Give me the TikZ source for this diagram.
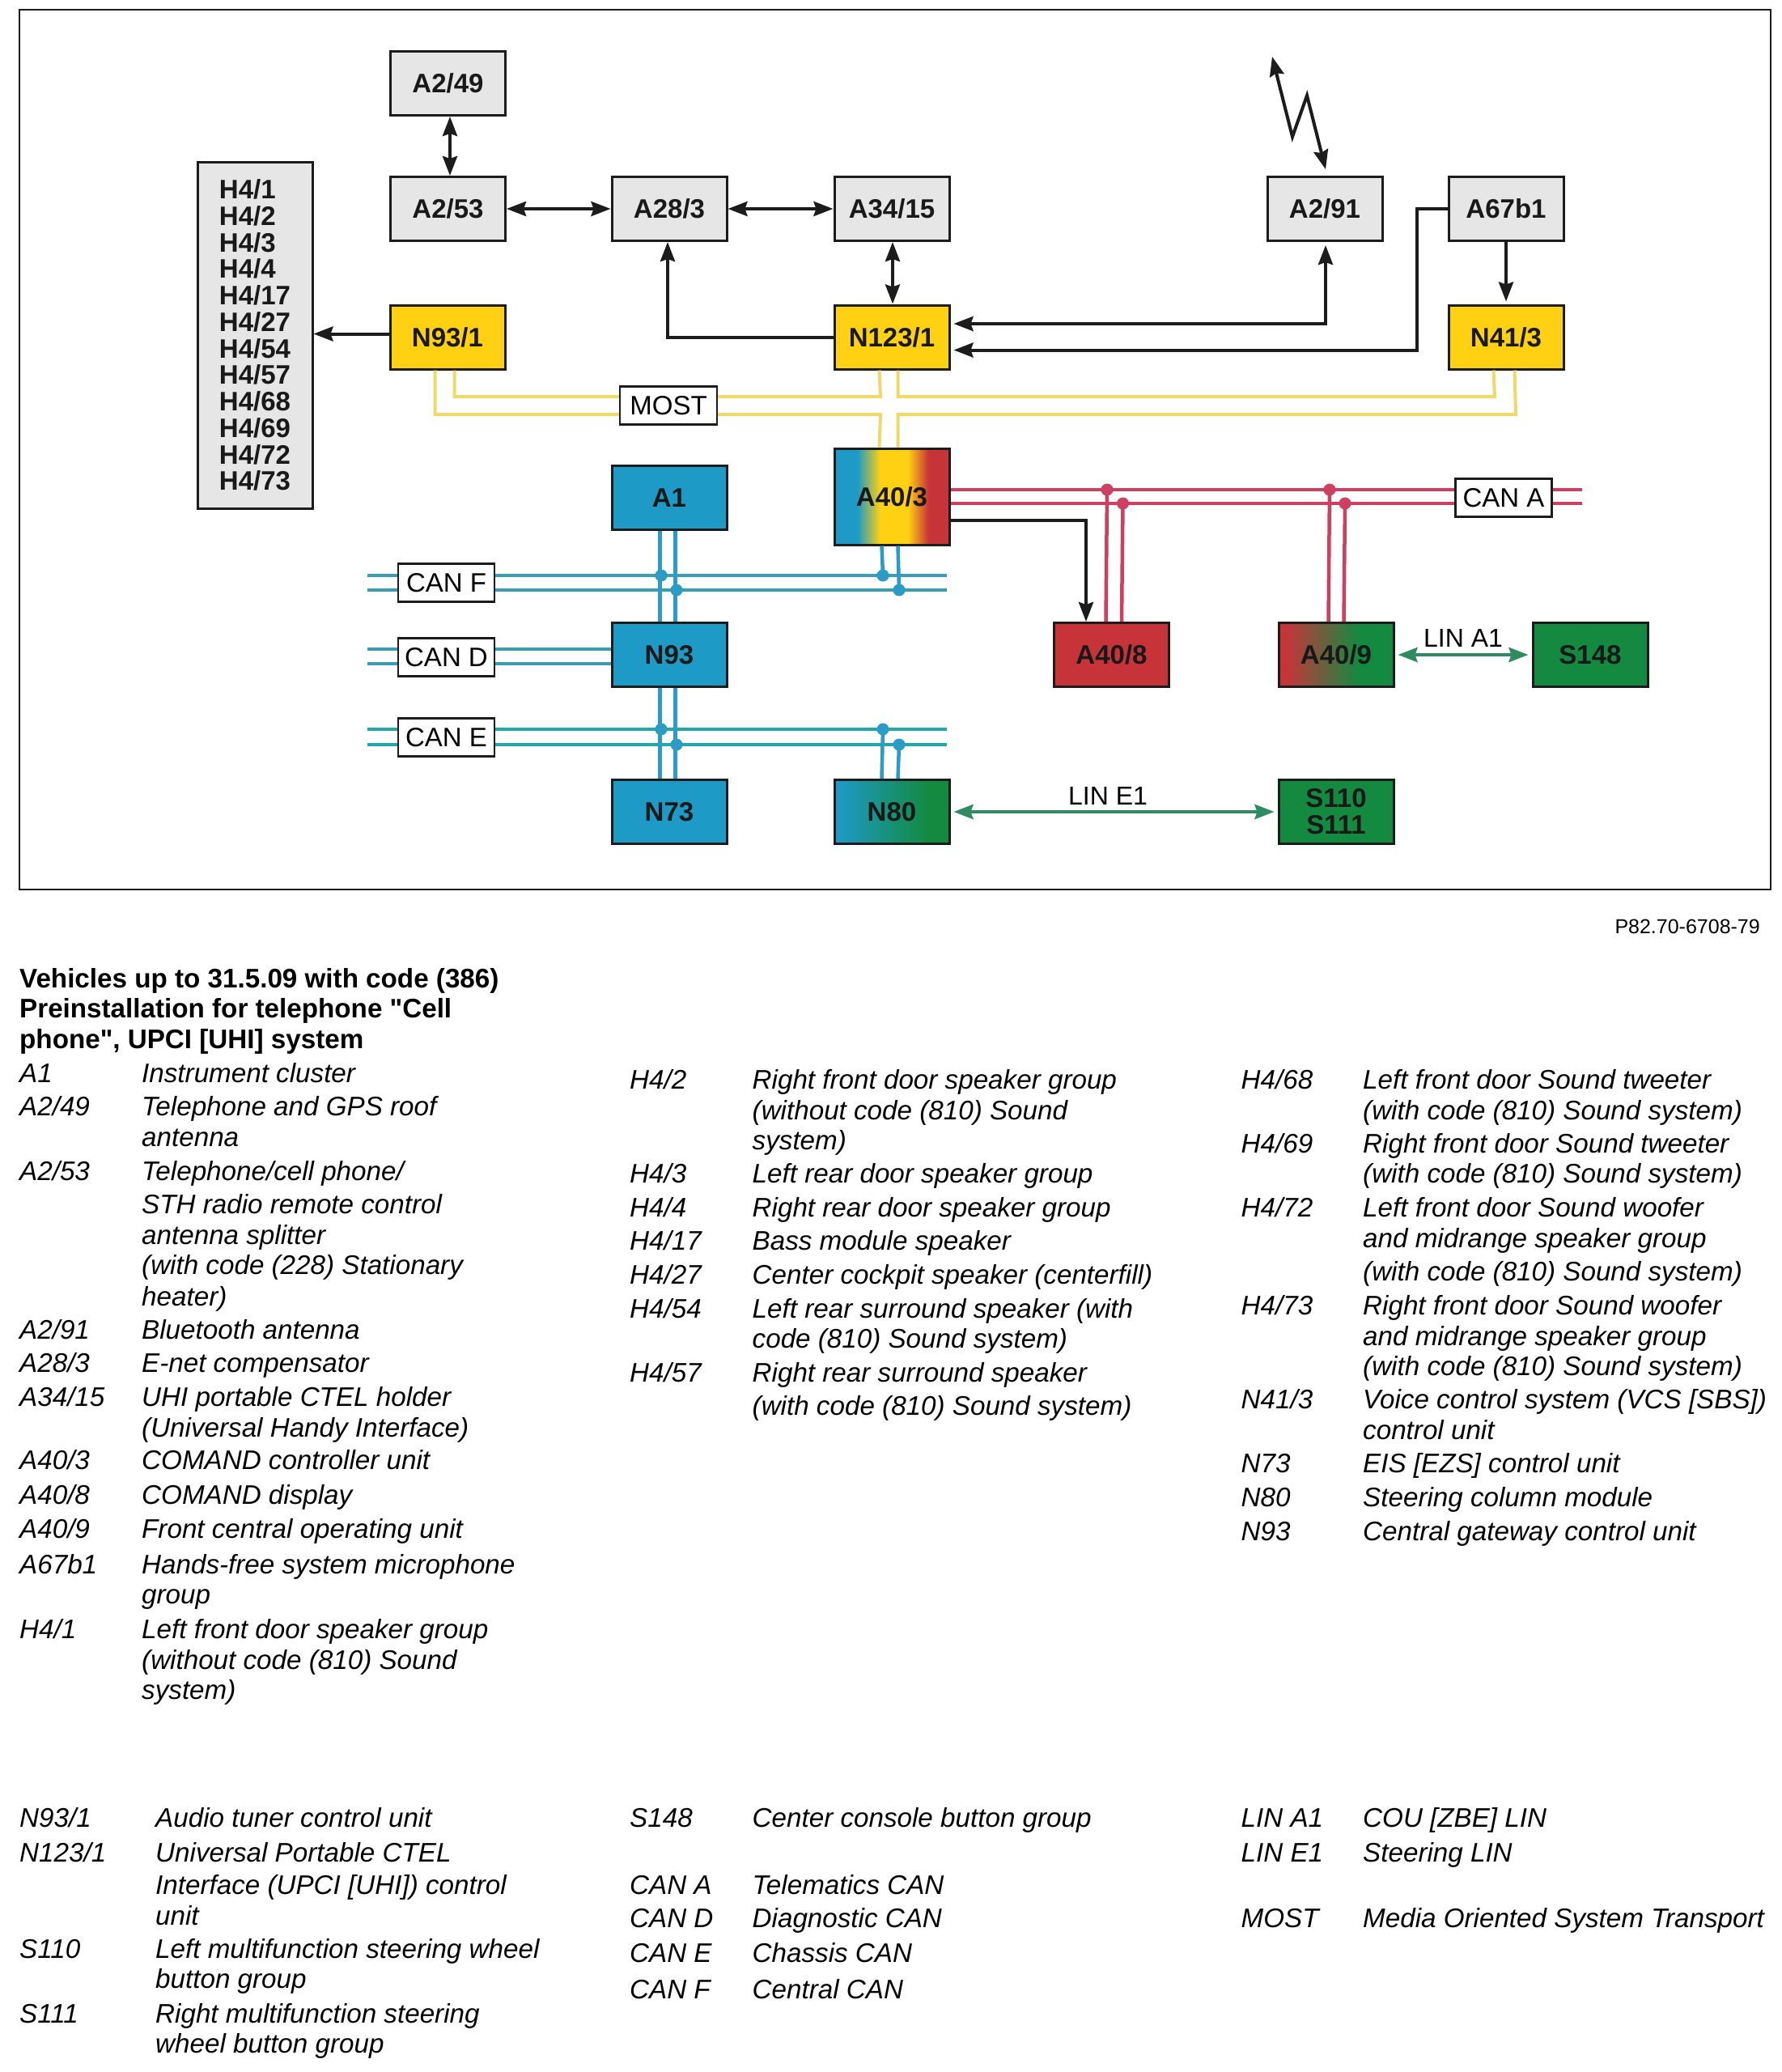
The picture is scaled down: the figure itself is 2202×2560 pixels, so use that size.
\documentclass[tikz,border=0pt]{standalone}
\usepackage{fontspec}
\setmainfont{Liberation Sans}
\font\qbf="Liberation Sans/B" at 33pt
\usetikzlibrary{arrows.meta,calc}
\definecolor{cgray}{HTML}{E6E6E6}
\definecolor{cyel}{HTML}{FFD112}
\definecolor{cblue}{HTML}{1E9AC6}
\definecolor{cred}{HTML}{C6343A}
\definecolor{cgreen}{HTML}{138A40}
\definecolor{lyel}{HTML}{EFD96A}
\definecolor{lblue}{HTML}{2A9CC6}
\definecolor{lteal}{HTML}{3C9DB0}
\definecolor{lteal2}{HTML}{22A8A8}
\definecolor{lred}{HTML}{CF3F60}
\definecolor{lgreen}{HTML}{2E8B62}
\definecolor{ink}{HTML}{1C1C1C}
\pgfdeclarehorizontalshading{rainbowbox}{100bp}{
  color(0bp)=(cblue); color(35bp)=(cblue); color(45bp)=(cyel); color(57bp)=(cyel); color(66bp)=(cred); color(100bp)=(cred)}
\pgfdeclarehorizontalshading{bluegreen}{100bp}{
  color(0bp)=(cblue); color(26bp)=(cblue); color(66bp)=(cgreen); color(100bp)=(cgreen)}
\pgfdeclarehorizontalshading{redgreen}{100bp}{
  color(0bp)=(cred); color(28bp)=(cred); color(60bp)=(cgreen); color(100bp)=(cgreen)}
\newcounter{legn}
\newcommand{\leg}[3]{\stepcounter{legn}\node[legtext] (leg\arabic{legn}) at (#1,#2+13) {#3};}
\tikzset{
  x=1pt,y=-1pt,
  unit/.style={draw=ink,line width=3pt,minimum width=142pt,minimum height=79pt,inner sep=0pt,
    font=\fontsize{33}{33}\selectfont\bfseries,text=black!90},
  gbox/.style={unit,fill=cgray},
  ybox/.style={unit,fill=cyel},
  bbox/.style={unit,fill=cblue},
  rbox/.style={unit,fill=cred},
  grbox/.style={unit,fill=cgreen},
  tag/.style={draw=ink,line width=2.5pt,fill=white,inner sep=0pt,minimum width=119pt,minimum height=47pt,
    font=\fontsize{33}{33}\selectfont},
  linelabel/.style={inner sep=0pt,font=\fontsize{32}{32}\selectfont},
  blk/.style={draw=ink,line width=4pt,line join=miter},
  arr/.style={blk,-{Stealth[length=24pt,width=18pt,inset=3pt]}},
  darr/.style={blk,{Stealth[length=24pt,width=18pt,inset=3pt]}-{Stealth[length=24pt,width=18pt,inset=3pt]}},
  larr/.style={blk,{Stealth[length=24pt,width=18pt,inset=3pt]}-},
  most/.style={draw=lyel,line width=4pt},
  canb/.style={draw=lblue,line width=4.5pt},
  canh/.style={draw=lteal,line width=4.5pt},
  cane/.style={draw=lteal2,line width=4.5pt},
  canr/.style={draw=lred,line width=4.5pt},
  grn/.style={draw=lgreen,line width=4pt,shorten <=4pt,shorten >=4pt,{Stealth[length=24pt,width=18pt,inset=3pt]}-{Stealth[length=24pt,width=18pt,inset=3pt]}},
  bdot/.style={circle,fill=lblue,draw=none,inner sep=0pt,minimum size=15pt},
  rdot/.style={circle,fill=lred,draw=none,inner sep=0pt,minimum size=15pt},
  legtext/.style={anchor=base west,inner sep=0pt,font=\fontsize{33.2}{33.2}\selectfont\itshape},
  legtitle/.style={anchor=base west,inner sep=0pt,font=\fontsize{33.2}{33.2}\selectfont\bfseries},
}
\begin{document}
\begin{tikzpicture}
\useasboundingbox (0,0) rectangle (2202,2560);
\fill[white] (0,0) rectangle (2202,2560);
\node[draw=ink,line width=2.5pt,minimum width=2164pt,minimum height=1087pt,inner sep=0pt] (frame) at (1106,555.5) {};

% units
\node[gbox] (A249) at (553.5,103) {A2/49};
\node[gbox] (A253) at (553.5,258) {A2/53};
\node[gbox] (A283) at (827,258) {A28/3};
\node[gbox] (A3415) at (1102,258) {A34/15};
\node[gbox] (A291) at (1637,258) {A2/91};
\node[gbox] (A67) at (1861,258) {A67b1};
\node[ybox] (N931) at (553,416.5) {N93/1};
\node[ybox] (N1231) at (1102,416.5) {N123/1};
\node[ybox] (N413) at (1861,416.5) {N41/3};
\node[gbox,minimum height=428pt,align=left,font=\fontsize{33}{32.75}\selectfont\bfseries] (H4) at (315,414)
  {H4/1\\H4/2\\H4/3\\H4/4\\H4/17\\H4/27\\H4/54\\H4/57\\H4/68\\H4/69\\H4/72\\H4/73};
\coordinate (a403c) at (1102,613.5);
\node[unit,minimum height=119pt,shading=rainbowbox] (A403) at (a403c) {A40/3};
\node[bbox] (A1) at (827,615) {A1};
\node[bbox] (N93) at (827,809) {N93};
\node[bbox] (N73) at (827,1003) {N73};
\node[unit,shading=bluegreen] (N80) at (1102,1003) {N80};
\node[rbox] (A408) at (1373.5,809) {A40/8};
\node[unit,shading=redgreen] (A409) at (1651,809) {A40/9};
\node[grbox] (S148) at (1965,809) {S148};
\node[grbox,align=center,font=\fontsize{33}{33}\selectfont\bfseries] (S110) at (1651,1003) {S110\\S111};

% MOST bus
\coordinate (m1) at (1088,512);
\coordinate (m2) at (1088,490);
\coordinate (m3) at (1847,490);
\coordinate (m4) at (1873,512);
\draw[most] ([xshift=57pt]N931.south west) |- (m1) -- ([xshift=57pt]A403.north west);
\draw[most] ([xshift=81pt]N931.south west) |- (m2) -- ([xshift=57pt]N1231.south west);
\draw[most] ([xshift=80pt]N1231.south west) |- (m3) -- ([xshift=57pt]N413.south west);
\draw[most] ([xshift=80pt]A403.north west) |- (m4) -- ([xshift=83pt]N413.south west);
\node[tag,minimum width=120pt] (MOST) at (826,501) {MOST};

% CAN F / D / E
\coordinate (F1l) at (454,711); \coordinate (F1r) at (1170,711);
\coordinate (F2l) at (454,729); \coordinate (F2r) at (1170,729);
\coordinate (E1l) at (454,901); \coordinate (E1r) at (1170,901);
\coordinate (E2l) at (454,920); \coordinate (E2r) at (1170,920);
\coordinate (D1l) at (454,802); \coordinate (D2l) at (454,820);
\draw[canh] (F1l) -- (F1r);
\draw[canh] (F2l) -- (F2r);
\draw[canh] (D1l) -- ([yshift=7pt]N93.west);
\draw[canh] (D2l) -- ([yshift=-11pt]N93.west);
\draw[cane] (E1l) -- (E1r);
\draw[cane] (E2l) -- (E2r);
\foreach \xs in {61,80}{
  \draw[canb] ([xshift=\xs pt]A1.south west) -- ([xshift=\xs pt]N93.north west);
  \draw[canb] ([xshift=\xs pt]N93.south west) -- ([xshift=\xs pt]N73.north west);
}
\node[bdot] (d1) at (817,711) {};
\node[bdot] (d2) at (836,729) {};
\node[bdot] (d3) at (1091,711) {};
\node[bdot] (d4) at (1111,729) {};
\node[bdot] (d5) at (817,901) {};
\node[bdot] (d6) at (836,920) {};
\node[bdot] (d7) at (1091,901) {};
\node[bdot] (d8) at (1111,920) {};
\draw[canb] ([xshift=60pt]A403.south west) -- (d3.center);
\draw[canb] ([xshift=80pt]A403.south west) -- (d4.center);
\draw[canb] ([xshift=60pt]N80.north west) -- (d7.center);
\draw[canb] ([xshift=80pt]N80.north west) -- (d8.center);
\node[tag] (CANF) at (551.5,720) {CAN F};
\node[tag] (CAND) at (551.5,812) {CAN D};
\node[tag] (CANE) at (551.5,911) {CAN E};

% CAN A
\coordinate (R1r) at (1955,605); \coordinate (R2r) at (1955,622);
\draw[canr] ([yshift=8.5pt]A403.east) -- (R1r);
\draw[canr] ([yshift=-8.5pt]A403.east) -- (R2r);
\node[rdot] (d9) at (1368,605) {};
\node[rdot] (d10) at (1387.5,622) {};
\node[rdot] (d11) at (1643,605) {};
\node[rdot] (d12) at (1662,622) {};
\draw[canr] ([xshift=65.5pt]A408.north west) -- (d9.center);
\draw[canr] ([xshift=85pt]A408.north west) -- (d10.center);
\draw[canr] ([xshift=63pt]A409.north west) -- (d11.center);
\draw[canr] ([xshift=82pt]A409.north west) -- (d12.center);
\node[tag] (CANA) at (1858,615) {CAN A};

% black connectors
\draw[darr] ([xshift=2.5pt]A249.south) -- ([xshift=2.5pt]A253.north);
\draw[darr] (A253.east) -- (A283.west);
\draw[darr] (A283.east) -- (A3415.west);
\draw[darr] ([xshift=1pt]A3415.south) -- ([xshift=1pt]N1231.north);
\draw[arr] (N931.west|-0,412.5) -- (H4.east|-0,412.5);
\draw[arr] (N1231.west) -| ([xshift=-2pt]A283.south);
\coordinate (c1) at (1638,400);
\draw[darr,shorten >=4pt,shorten <=4pt] ([yshift=16.5pt]N1231.east) -- (c1) -- (c1|-A291.south);
\coordinate (c2) at (1751,432.5);
\draw[larr,shorten <=4pt] ([yshift=-16pt]N1231.east) -- (c2) |- (A67.west);
\draw[arr,shorten >=3pt] (A67.south) -- (N413.north);
\coordinate (c3) at (1342,642.5);
\draw[arr] (A403.east|-c3) -- (c3) -- (c3|-A408.north);
\coordinate (z0) at (1572,70); \coordinate (z1) at (1597,169); \coordinate (z2) at (1615,118);
\draw[darr,line join=miter,shorten >=8pt] (z0) -- (z1) -- (z2) -- (A291.north-|1640,0);

% LIN
\draw[grn] (N80.east) -- (S110.west);
\draw[grn] (A409.east) -- (S148.west);
\node[linelabel] (LINE1) at (1369,983) {LIN E1};
\node[linelabel] (LINA1) at (1808,788) {LIN A1};

% reference number
\node[anchor=base east,inner sep=0pt,font=\fontsize{25}{25}\selectfont] (ref) at (2175,1153) {P82.70-6708-79};

% legend title
\node[legtitle] (t1) at (24,1220) {Vehicles up to 31.5.09 with code (386)};
\node[legtitle] (t2) at (24,1257) {Preinstallation for telephone {\qbf "}Cell};
\node[legtitle] (t3) at (24,1295) {phone{\qbf "}, UPCI [UHI] system};

% column 1
\def\Lx{24}\def\Dx{175}
\leg{\Lx}{1324}{A1}\leg{\Dx}{1324}{Instrument cluster}
\leg{\Lx}{1365}{A2/49}\leg{\Dx}{1365}{Telephone and GPS roof}
\leg{\Dx}{1403}{antenna}
\leg{\Lx}{1445}{A2/53}\leg{\Dx}{1445}{Telephone/cell phone/}
\leg{\Dx}{1486}{STH radio remote control}
\leg{\Dx}{1524}{antenna splitter}
\leg{\Dx}{1561}{(with code (228) Stationary}
\leg{\Dx}{1600}{heater)}
\leg{\Lx}{1641}{A2/91}\leg{\Dx}{1641}{Bluetooth antenna}
\leg{\Lx}{1682}{A28/3}\leg{\Dx}{1682}{E-net compensator}
\leg{\Lx}{1724}{A34/15}\leg{\Dx}{1724}{UHI portable CTEL holder}
\leg{\Dx}{1762}{(Universal Handy Interface)}
\leg{\Lx}{1802}{A40/3}\leg{\Dx}{1802}{COMAND controller unit}
\leg{\Lx}{1845}{A40/8}\leg{\Dx}{1845}{COMAND display}
\leg{\Lx}{1887}{A40/9}\leg{\Dx}{1887}{Front central operating unit}
\leg{\Lx}{1931}{A67b1}\leg{\Dx}{1931}{Hands-free system microphone}
\leg{\Dx}{1968}{group}
\leg{\Lx}{2011}{H4/1}\leg{\Dx}{2011}{Left front door speaker group}
\leg{\Dx}{2049}{(without code (810) Sound}
\leg{\Dx}{2086}{system)}
% column 2
\def\Lx{778}\def\Dx{929.5}
\leg{\Lx}{1332}{H4/2}\leg{\Dx}{1332}{Right front door speaker group}
\leg{\Dx}{1370}{(without code (810) Sound}
\leg{\Dx}{1407}{system)}
\leg{\Lx}{1448}{H4/3}\leg{\Dx}{1448}{Left rear door speaker group}
\leg{\Lx}{1490}{H4/4}\leg{\Dx}{1490}{Right rear door speaker group}
\leg{\Lx}{1531}{H4/17}\leg{\Dx}{1531}{Bass module speaker}
\leg{\Lx}{1573}{H4/27}\leg{\Dx}{1573}{Center cockpit speaker (centerfill)}
\leg{\Lx}{1615}{H4/54}\leg{\Dx}{1615}{Left rear surround speaker (with}
\leg{\Dx}{1652}{code (810) Sound system)}
\leg{\Lx}{1694}{H4/57}\leg{\Dx}{1694}{Right rear surround speaker}
\leg{\Dx}{1735}{(with code (810) Sound system)}
% column 3
\def\Lx{1533.5}\def\Dx{1684}
\leg{\Lx}{1332}{H4/68}\leg{\Dx}{1332}{Left front door Sound tweeter}
\leg{\Dx}{1370}{(with code (810) Sound system)}
\leg{\Lx}{1411}{H4/69}\leg{\Dx}{1411}{Right front door Sound tweeter}
\leg{\Dx}{1448}{(with code (810) Sound system)}
\leg{\Lx}{1490}{H4/72}\leg{\Dx}{1490}{Left front door Sound woofer}
\leg{\Dx}{1528}{and midrange speaker group}
\leg{\Dx}{1569}{(with code (810) Sound system)}
\leg{\Lx}{1611}{H4/73}\leg{\Dx}{1611}{Right front door Sound woofer}
\leg{\Dx}{1649}{and midrange speaker group}
\leg{\Dx}{1686}{(with code (810) Sound system)}
\leg{\Lx}{1727}{N41/3}\leg{\Dx}{1727}{Voice control system (VCS [SBS])}
\leg{\Dx}{1765}{control unit}
\leg{\Lx}{1806}{N73}\leg{\Dx}{1806}{EIS [EZS] control unit}
\leg{\Lx}{1848}{N80}\leg{\Dx}{1848}{Steering column module}
\leg{\Lx}{1890}{N93}\leg{\Dx}{1890}{Central gateway control unit}
% bottom
\def\Lx{24}\def\Dx{192}
\leg{\Lx}{2244}{N93/1}\leg{\Dx}{2244}{Audio tuner control unit}
\leg{\Lx}{2287}{N123/1}\leg{\Dx}{2287}{Universal Portable CTEL}
\leg{\Dx}{2327}{Interface (UPCI [UHI]) control}
\leg{\Dx}{2365}{unit}
\leg{\Lx}{2406}{S110}\leg{\Dx}{2406}{Left multifunction steering wheel}
\leg{\Dx}{2443}{button group}
\leg{\Lx}{2486}{S111}\leg{\Dx}{2486}{Right multifunction steering}
\leg{\Dx}{2523}{wheel button group}
\def\Lx{778}\def\Dx{929.5}
\leg{\Lx}{2244}{S148}\leg{\Dx}{2244}{Center console button group}
\leg{\Lx}{2327}{CAN A}\leg{\Dx}{2327}{Telematics CAN}
\leg{\Lx}{2368}{CAN D}\leg{\Dx}{2368}{Diagnostic CAN}
\leg{\Lx}{2411.5}{CAN E}\leg{\Dx}{2411.5}{Chassis CAN}
\leg{\Lx}{2456}{CAN F}\leg{\Dx}{2456}{Central CAN}
\def\Lx{1533.5}\def\Dx{1684}
\leg{\Lx}{2244}{LIN A1}\leg{\Dx}{2244}{COU [ZBE] LIN}
\leg{\Lx}{2287}{LIN E1}\leg{\Dx}{2287}{Steering LIN}
\leg{\Lx}{2368}{MOST}\leg{\Dx}{2368}{Media Oriented System Transport}
\end{tikzpicture}
\end{document}
